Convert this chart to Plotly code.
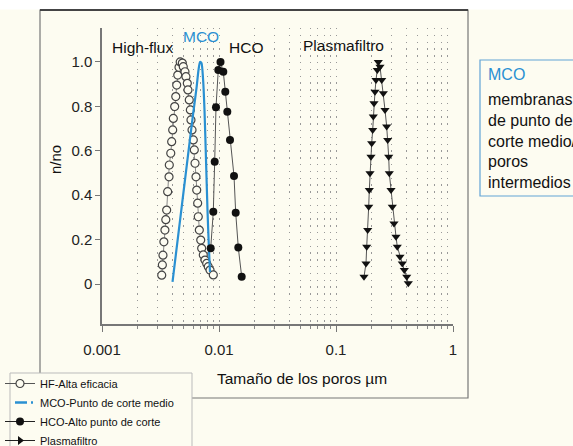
import plotly.graph_objects as go

# ---------------- data ----------------
hf_x = [0.00324, 0.00328, 0.00332, 0.00338, 0.00345, 0.00351, 0.00357, 0.00364, 0.00374,
        0.00376, 0.00387, 0.00394, 0.00402, 0.00407, 0.00418, 0.00427, 0.00435, 0.00444,
        0.00455, 0.00466,
        0.00486, 0.00495, 0.00512, 0.00522, 0.00536, 0.00543, 0.00557, 0.00569, 0.00576,
        0.00588, 0.00603, 0.00615, 0.00624, 0.00636, 0.00645, 0.00657, 0.00665, 0.00679,
        0.00698, 0.00711, 0.00734, 0.00759, 0.00785, 0.00810, 0.00838, 0.00894]
hf_y = [0.04, 0.086, 0.13, 0.19, 0.243, 0.29, 0.333, 0.416, 0.483,
        0.536, 0.589, 0.641, 0.694, 0.746, 0.799, 0.844, 0.896, 0.941,
        0.976, 1.0,
        0.995, 0.979, 0.956, 0.934, 0.904, 0.874, 0.829, 0.784, 0.739,
        0.694, 0.649, 0.604, 0.544, 0.483, 0.423, 0.364, 0.303, 0.243,
        0.198, 0.161, 0.131, 0.108, 0.093, 0.078, 0.063, 0.041]

mco_x = [0.004006, 0.005122, 0.005997, 0.006425, 0.006680, 0.006880, 0.007085,
         0.007297, 0.007516, 0.007744, 0.007973, 0.008213, 0.008377]
mco_y = [0.01, 0.469, 0.763, 0.883, 0.964, 1.0, 0.995,
         0.928, 0.784, 0.559, 0.333, 0.153, 0.054]

hco_x = [0.008492, 0.008939, 0.009186, 0.009425, 0.009862, 0.01030,
         0.01088, 0.01132, 0.01178, 0.01242, 0.01344, 0.01389, 0.01462, 0.01563]
hco_y = [0.161, 0.326, 0.551, 0.796, 0.964, 1.0,
         0.956, 0.866, 0.776, 0.649, 0.486, 0.321, 0.164, 0.033]

pf_x = [0.1735, 0.1805, 0.1830, 0.1866, 0.1903, 0.1926, 0.1952, 0.1991, 0.2019, 0.2059,
        0.2083, 0.2112, 0.2154, 0.2197, 0.2254, 0.2299,
        0.2377, 0.2458, 0.2537, 0.2623, 0.2712, 0.2766, 0.2821, 0.2854, 0.2952, 0.3028,
        0.3131, 0.3257, 0.3341, 0.3524, 0.3688, 0.3836, 0.4022, 0.4150]
pf_y = [0.033, 0.093, 0.168, 0.243, 0.348, 0.423, 0.499, 0.573, 0.634, 0.694,
        0.754, 0.814, 0.866, 0.919, 0.964, 1.0,
        0.979, 0.919, 0.859, 0.784, 0.709, 0.649, 0.573, 0.499, 0.423, 0.348,
        0.273, 0.213, 0.168, 0.123, 0.093, 0.063, 0.033, 0.003]

x_ticks = [0.001, 0.01, 0.1, 1]
x_ticklabels = ["0.001", "0.01", "0.1", "1"]
y_ticks = [0, 0.2, 0.4, 0.6, 0.8, 1.0]
y_ticklabels = ["0", "0.2", "0.4", "0.6", "0.8", "1.0"]

legend_names = ["HF-Alta eficacia", "MCO-Punto de corte medio",
                "HCO-Alto punto de corte", "Plasmafiltro"]
curve_labels = ["High-flux", "MCO", "HCO", "Plasmafiltro"]
box_title = "MCO"
box_lines = ["membranas", "de punto de", "corte medio/", "poros", "intermedios"]
x_title = "Tamaño de los poros µm"
y_title = "n/no"

# ---------------- layout helpers ----------------
W, H = 573, 446
L, R, T, B = 102, 453, 28, 324
def px(X):
    return (X - L) / (R - L)
def py(Y):
    return (B - Y) / (B - T)

BG = "#fdfcf1"
BLUE = "#2a90d2"
FONT = "Liberation Sans, Arial, sans-serif"
minor_vals = [m * 10 ** e for e in (-3, -2, -1) for m in range(2, 10)]

fig = go.Figure()

# data traces
fig.add_trace(go.Scatter(x=hf_x, y=hf_y, mode="lines+markers", showlegend=False,
                         line=dict(color="#888", width=1),
                         marker=dict(symbol="circle", size=8, color=BG,
                                     line=dict(color="#444", width=1.2))))
fig.add_trace(go.Scatter(x=mco_x, y=mco_y, mode="lines", showlegend=False,
                         line=dict(color=BLUE, width=2.2, shape="spline", smoothing=0.6)))
fig.add_trace(go.Scatter(x=hco_x, y=hco_y, mode="lines+markers", showlegend=False,
                         line=dict(color="#555", width=1),
                         marker=dict(symbol="circle", size=8, color="#111")))
fig.add_trace(go.Scatter(x=pf_x, y=pf_y, mode="lines+markers", showlegend=False,
                         line=dict(color="#555", width=1),
                         marker=dict(symbol="triangle-down", size=8, color="#111")))

# legend entries
fig.add_trace(go.Scatter(x=[None], y=[None], mode="lines+markers", name=legend_names[0],
                         line=dict(color="#555", width=1),
                         marker=dict(symbol="circle", size=8, color=BG,
                                     line=dict(color="#444", width=1.2))))
fig.add_trace(go.Scatter(x=[None], y=[None], mode="lines", name=legend_names[1],
                         line=dict(color=BLUE, width=2.5, dash="0px,10px,12px,4px,2px,20px")))
fig.add_trace(go.Scatter(x=[None], y=[None], mode="lines+markers", name=legend_names[2],
                         line=dict(color="#222", width=1),
                         marker=dict(symbol="circle", size=8, color="#111")))
fig.add_trace(go.Scatter(x=[None], y=[None], mode="lines+markers", name=legend_names[3],
                         line=dict(color="#222", width=1),
                         marker=dict(symbol="triangle-right", size=8, color="#111")))

shapes = [
    # white strip at top
    dict(type="rect", xref="paper", yref="paper", x0=px(-5), x1=px(W + 5), y0=py(9.5), y1=py(-5),
         fillcolor="white", line=dict(width=0), layer="below"),
    # outer frame
    dict(type="rect", xref="paper", yref="paper", x0=px(40), x1=px(468), y0=py(398), y1=py(10),
         line=dict(color="#777", width=1.2), layer="below"),
    dict(type="line", xref="paper", yref="paper", x0=px(40), x1=px(468), y0=py(10), y1=py(10),
         line=dict(color="#444", width=2)),
    # info box on the right
    dict(type="rect", xref="paper", yref="paper", x0=px(480), x1=px(620), y0=py(196), y1=py(60),
         line=dict(color="#62a3d6", width=1.2), fillcolor=BG),
    # legend box
    dict(type="rect", xref="paper", yref="paper", x0=px(10), x1=px(192), y0=py(470), y1=py(373),
         line=dict(color="#bbb", width=1), fillcolor=BG),
]

annotations = [
    dict(text=curve_labels[0], x=px(142), y=py(48), font=dict(size=15.5, color="#111")),
    dict(text=curve_labels[1], x=px(201), y=py(37), font=dict(size=15.5, color=BLUE)),
    dict(text=curve_labels[2], x=px(246), y=py(48), font=dict(size=15.5, color="#111")),
    dict(text=curve_labels[3], x=px(343), y=py(45), font=dict(size=15.5, color="#111")),
    dict(text=x_title, x=px(302), y=py(378), font=dict(size=15.5, color="#111")),
    dict(text=y_title, x=px(55), y=py(160), textangle=-90, font=dict(size=15, color="#111")),
    dict(text=box_title, x=px(486), y=py(74), xanchor="left", font=dict(size=16, color=BLUE)),
]
for i, line in enumerate(box_lines):
    annotations.append(dict(text=line, x=px(486), y=py(100 + 20.5 * i), xanchor="left",
                            font=dict(size=16, color="#111")))
for a in annotations:
    a.update(xref="paper", yref="paper", showarrow=False)
    a.setdefault("xanchor", "center")
    a.setdefault("yanchor", "middle")

fig.update_layout(
    width=W, height=H,
    margin=dict(l=L, r=W - R, t=T, b=H - B, autoexpand=False),
    paper_bgcolor=BG, plot_bgcolor=BG,
    font=dict(family=FONT, color="#111"),
    shapes=shapes, annotations=annotations,
    showlegend=True,
    legend=dict(x=px(0), y=py(369), xanchor="left", yanchor="top",
                bgcolor="rgba(0,0,0,0)", borderwidth=0,
                font=dict(size=11, color="#111"), tracegroupgap=0),
    xaxis=dict(type="log", range=[-3, 0], tickmode="array", tickvals=x_ticks,
               ticktext=x_ticklabels, ticks="outside", ticklen=6, tickcolor="#777",
               showline=True, linecolor="#777", linewidth=1.5,
               showgrid=True, gridcolor="#999", gridwidth=1.3, griddash="1.3px,5.5px",
               zeroline=False, tickfont=dict(size=15, color="#222"), ticklabelstandoff=5,
               minor=dict(tickmode="array", tickvals=minor_vals, ticks="outside", ticklen=3,
                          tickcolor="#888", showgrid=True, gridcolor="#999", gridwidth=1.3,
                          griddash="1.3px,5.5px")),
    yaxis=dict(range=[-0.18, 1.153], tickmode="array", tickvals=y_ticks, ticktext=y_ticklabels,
               ticks="outside", ticklen=5, tickcolor="#777",
               showline=True, linecolor="#777", linewidth=1.5,
               showgrid=False, zeroline=False, tickfont=dict(size=15, color="#222")),
)

fig.write_html("out.html", config={"displayModeBar": False},
               post_script="document.body.style.margin='0';document.body.style.overflow='hidden';")
